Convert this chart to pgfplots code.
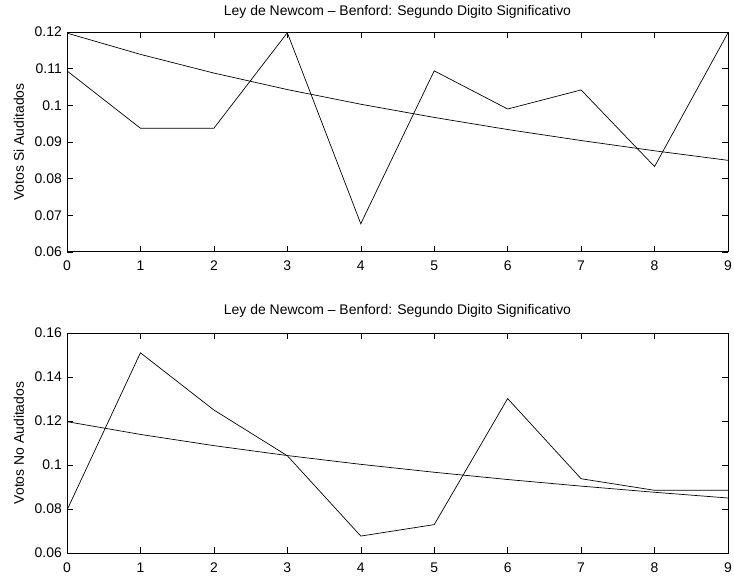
\documentclass[border=0pt]{standalone}
\usepackage{pgfplots}
\pgfplotsset{compat=1.18}
\usepackage{fontspec}
\setmainfont{Liberation Sans}
\begin{document}
\begin{tikzpicture}
\useasboundingbox (0bp,0bp) rectangle (734bp,577bp);
\pgfplotsset{
  mystyle/.style={
    scale only axis, width=661bp, height=220bp,
    xmin=0, xmax=9, xtick={0,...,9},
    tick pos=both, tick align=inside,
    major tick length=6bp,
    axis line style={line width=1pt},
    every tick/.style={black, line width=0.5pt},
    scaled y ticks=false,
    /pgf/number format/assume math mode=true,
    /pgf/number format/fixed, /pgf/number format/precision=2,
    tick label style={font=\fontsize{14}{16}\selectfont, inner sep=0pt},
    xticklabel style={anchor=base, yshift=-19bp},
    yticklabel style={anchor=east, xshift=-5bp},
    label style={font=\fontsize{14}{16}\selectfont},
    ylabel style={at={(axis description cs:-0.0651,0.5)}, anchor=base, inner sep=0pt},
    title style={font=\fontsize{14}{16}\selectfont, at={(axis description cs:0.5,1)}, anchor=base, inner sep=0pt},
    title={Ley de Newcom -- Benford: Segundo Digito Significativo},
  }
}
\begin{axis}[mystyle, at={(67bp,325bp)}, anchor=south west,
  ymin=0.06, ymax=0.12, ytick={0.06,0.07,...,0.12},
  ylabel={Votos Si Auditados},
  title style={yshift=10.5bp}]
\addplot[black, line width=0.7pt] coordinates {(0,0.1094)(1,0.09375)(2,0.09375)(3,0.1198)(4,0.0677)(5,0.1094)(6,0.0990)(7,0.1042)(8,0.0833)(9,0.1198)};
\addplot[black, line width=0.7pt] coordinates {(0,0.1197)(1,0.1139)(2,0.1088)(3,0.1043)(4,0.1003)(5,0.0967)(6,0.0934)(7,0.0904)(8,0.0876)(9,0.0850)};
\end{axis}
\begin{axis}[mystyle, at={(67bp,24bp)}, anchor=south west,
  ymin=0.06, ymax=0.16, ytick={0.06,0.08,...,0.16},
  ylabel={Votos No Auditados},
  title style={yshift=12.5bp}]
\addplot[black, line width=0.7pt] coordinates {(0,0.0795)(1,0.1510)(2,0.1250)(3,0.1042)(4,0.0677)(5,0.0729)(6,0.1302)(7,0.09375)(8,0.0885)(9,0.0885)};
\addplot[black, line width=0.7pt] coordinates {(0,0.1197)(1,0.1139)(2,0.1088)(3,0.1043)(4,0.1003)(5,0.0967)(6,0.0934)(7,0.0904)(8,0.0876)(9,0.0850)};
\end{axis}
\end{tikzpicture}
\end{document}
